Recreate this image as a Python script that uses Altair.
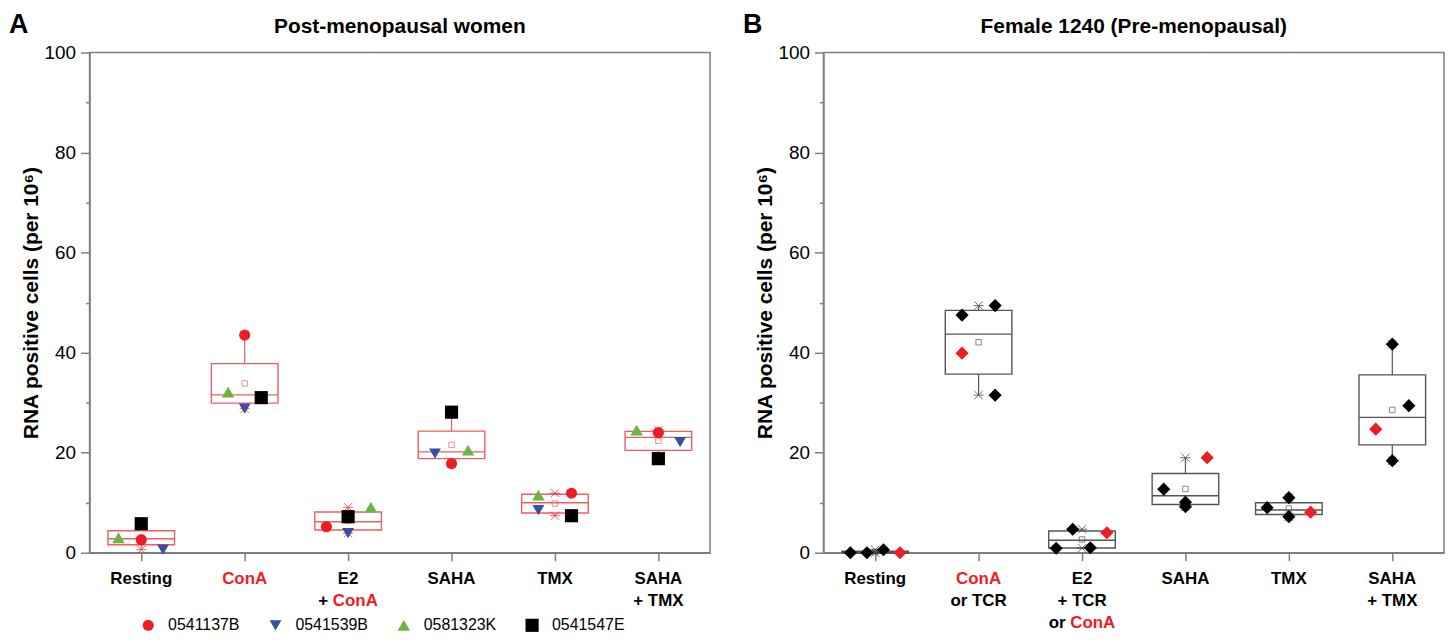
import altair as alt
import pandas as pd

# ---------------- data ----------------
idx = [1, 2, 3, 4, 5, 6]

# Panel A – four post-menopausal donors (value per condition)
subjects = ["0541137B", "0541539B", "0581323K", "0541547E"]
a_0541137B = [2.6, 43.5, 5.2, 17.8, 11.9, 24.0]
a_0541539B = [0.6, 28.8, 3.9, 19.8, 8.5, 22.1]
a_0581323K = [3.0, 32.1, 9.1, 20.5, 11.5, 24.5]
a_0541547E = [5.8, 31.0, 7.2, 28.1, 7.4, 18.8]
# horizontal spread of overlapping points (category units)
jit_0541137B = [0.0, 0.0, -0.21, 0.0, 0.16, 0.0]
jit_0541539B = [0.21, 0.0, 0.0, -0.16, -0.16, 0.21]
jit_0581323K = [-0.22, -0.16, 0.22, 0.16, -0.16, -0.21]
jit_0541547E = [0.0, 0.16, 0.0, 0.0, 0.16, 0.0]

# Panel B – female 1240, four measurements per condition
b_resting = [0.0, 0.0, 0.6, 0.0]
b_cona = [47.5, 49.4, 39.9, 31.5]
b_e2 = [0.9, 4.7, 1.0, 4.0]
b_saha = [12.7, 10.1, 9.2, 19.0]
b_tmx = [9.0, 11.0, 7.2, 8.1]
b_sahatmx = [41.7, 29.4, 24.7, 18.4]
bj_resting = [-0.24, -0.08, 0.08, 0.24]
bj_cona = [-0.16, 0.16, -0.16, 0.16]
bj_e2 = [-0.25, -0.09, 0.08, 0.24]
bj_saha = [-0.21, 0.0, 0.0, 0.21]
bj_tmx = [-0.21, 0.0, 0.0, 0.21]
bj_sahatmx = [0.0, 0.16, -0.16, 0.0]
b_red_index = [3, 2, 3, 3, 3, 2]   # which point of each group is drawn red

# category labels: (category, line, [(text, colour-key), ...])
labels_A = [
    (1, 0, [("Resting", "k")]),
    (2, 0, [("ConA", "r")]),
    (3, 0, [("E2", "k")]), (3, 1, [("+ ", "k"), ("ConA", "r")]),
    (4, 0, [("SAHA", "k")]),
    (5, 0, [("TMX", "k")]),
    (6, 0, [("SAHA", "k")]), (6, 1, [("+ TMX", "k")]),
]
labels_B = [
    (1, 0, [("Resting", "k")]),
    (2, 0, [("ConA", "r")]), (2, 1, [("or TCR", "k")]),
    (3, 0, [("E2", "k")]), (3, 1, [("+ TCR", "k")]), (3, 2, [("or ", "k"), ("ConA", "r")]),
    (4, 0, [("SAHA", "k")]),
    (5, 0, [("TMX", "k")]),
    (6, 0, [("SAHA", "k")]), (6, 1, [("+ TMX", "k")]),
]

# ---------------- styling ----------------
W, H = 624, 503
FONT = "Liberation Sans"
RED, BLUE, GREEN, BLACK = "#EE1D23", "#3A4EA3", "#6AB545", "#000000"
BOXRED = "#EF5E5E"
GRAY = "#7F7F7F"
LBL = 17
HALF = 0.322
LINE0, LSTEP = 31, 22.5

COLS = {"k": "#000000", "r": RED}
BOLD_W = {"+": 0.584, " ": 0.278, "C": 0.722, "o": 0.611, "n": 0.611, "A": 0.722,
          "r": 0.389, "T": 0.611, "R": 0.722, "M": 0.833, "X": 0.667}


def twidth(s):
    return sum(BOLD_W.get(c, 0.6) for c in s) * LBL


def hinge_stats(vals):
    s = sorted(vals)
    return dict(lo=s[0], q1=(s[0] + s[1]) / 2, med=(s[1] + s[2]) / 2,
                q3=(s[2] + s[3]) / 2, hi=s[3], mean=sum(s) / len(s))


xscale = alt.Scale(domain=[0.5, 6.5], nice=False, zero=False)
yscale = alt.Scale(domain=[0, 100], nice=False)
xaxis = alt.Axis(values=idx, labels=False, title=None, tickSize=8, grid=False)
yaxis = alt.Axis(
    title="RNA positive cells (per 10⁶)",
    values=list(range(0, 101, 10)),
    labelExpr="datum.value % 20 === 0 ? datum.label : ''",
    tickSize={"condition": {"test": "datum.value % 20 !== 0", "value": 4}, "value": 9},
    grid=False,
)


def X(f):
    return alt.X(f, type="quantitative", scale=xscale, axis=xaxis)


def Y(f):
    return alt.Y(f, type="quantitative", scale=yscale, axis=yaxis)


def stats_frame(groups):
    rows = []
    for i, vals in zip(idx, groups):
        st = hinge_stats(vals)
        st.update(idx=i, xl=i - HALF, xr=i + HALF)
        rows.append(st)
    return pd.DataFrame(rows)


def box_layers(sdf, col, star_col):
    base = alt.Chart(sdf)
    up = base.mark_rule(color=col, strokeWidth=1.2).encode(x=X("idx"), y=Y("q3"), y2="hi")
    dn = base.mark_rule(color=col, strokeWidth=1.2).encode(x=X("idx"), y=Y("lo"), y2="q1")
    box = base.mark_rect(fillOpacity=0, stroke=col, strokeWidth=1.4).encode(
        x=X("xl"), x2="xr", y=Y("q1"), y2="q3")
    med = base.mark_rule(color=col, strokeWidth=1.4).encode(x=X("xl"), x2="xr", y=Y("med"))
    mean = base.mark_point(shape="square", filled=False, size=30, color=col,
                           strokeWidth=1).encode(x=X("idx"), y=Y("mean"))
    star = base.transform_fold(["lo", "hi"], as_=["k", "v"]).mark_point(
        shape="M-1,-1L1,1M-1,1L1,-1M-1.2,0L1.2,0", filled=False, size=70,
        color=star_col, strokeWidth=1).encode(x=X("idx"), y=Y("v:Q"))
    return [up, dn, box, med, mean, star]


def label_layers(labels):
    layers = []
    simple = []
    for (i, line, segs) in labels:
        if len(segs) == 1:
            simple.append(dict(idx=i, line=line, text=segs[0][0], color=COLS[segs[0][1]]))
        else:
            total = sum(twidth(t) for t, _ in segs)
            start = -total / 2
            for t, c in segs:
                d = pd.DataFrame([dict(idx=i, text=t)])
                layers.append(alt.Chart(d).mark_text(
                    font=FONT, fontSize=LBL, fontWeight="bold", align="left",
                    baseline="alphabetic", dx=start, color=COLS[c]).encode(
                    x=X("idx"), y=alt.value(H + LINE0 + LSTEP * line), text="text"))
                start += twidth(t)
    sdf = pd.DataFrame(simple)
    for line in sorted(sdf["line"].unique()):
        layers.append(alt.Chart(sdf[sdf["line"] == line]).mark_text(
            font=FONT, fontSize=LBL, fontWeight="bold", align="center",
            baseline="alphabetic").encode(
            x=X("idx"), y=alt.value(H + LINE0 + LSTEP * int(line)), text="text",
            color=alt.Color("color:N", scale=None)))
    return layers


def headings(letter, title):
    d = pd.DataFrame({"t": [letter]})
    lt = alt.Chart(d).mark_text(
        font=FONT, fontSize=27, fontWeight="bold", align="left", baseline="alphabetic",
        color="black").encode(x=alt.value(-81), y=alt.value(-20), text="t")
    d2 = pd.DataFrame({"t": [title]})
    tt = alt.Chart(d2).mark_text(
        font=FONT, fontSize=21, fontWeight="bold", align="center", baseline="alphabetic",
        color="black").encode(x=alt.value(W / 2), y=alt.value(-20), text="t")
    return [lt, tt]


# ---------------- panel A ----------------
vals_A = [a_0541137B, a_0541539B, a_0581323K, a_0541547E]
jits_A = [jit_0541137B, jit_0541539B, jit_0581323K, jit_0541547E]
rows = []
for s, vals, jit in zip(subjects, vals_A, jits_A):
    for i, v, j in zip(idx, vals, jit):
        rows.append(dict(subject=s, idx=i, x=i + j, value=v))
pts_A = pd.DataFrame(rows)
groups_A = [[vals[k] for vals in vals_A] for k in range(6)]
stats_A = stats_frame(groups_A)

leg = alt.Legend(title=None, orient="none", legendX=51, legendY=568, direction="horizontal",
                 labelFont=FONT, labelFontSize=16, labelColor="black", symbolSize=110,
                 labelOffset=12, columnPadding=28, symbolStrokeWidth=0)
points_A = alt.Chart(pts_A).mark_point(filled=True, opacity=1, strokeWidth=0).encode(
    x=X("x"), y=Y("value"),
    color=alt.Color("subject:N", scale=alt.Scale(domain=subjects, range=[RED, BLUE, GREEN, BLACK]), legend=leg),
    shape=alt.Shape("subject:N", scale=alt.Scale(domain=subjects,
                    range=["circle", "triangle-down", "triangle-up", "square"]), legend=leg),
    size=alt.Size("subject:N", scale=alt.Scale(domain=subjects, range=[125, 175, 175, 80]), legend=None),
)

panel_A = alt.layer(*box_layers(stats_A, BOXRED, RED), points_A, *label_layers(labels_A),
                    *headings("A", "Post-menopausal women")).properties(width=W, height=H)

# ---------------- panel B ----------------
groups_B = [b_resting, b_cona, b_e2, b_saha, b_tmx, b_sahatmx]
jits_B = [bj_resting, bj_cona, bj_e2, bj_saha, bj_tmx, bj_sahatmx]
rows = []
for i, vals, jit, r in zip(idx, groups_B, jits_B, b_red_index):
    for k, (v, j) in enumerate(zip(vals, jit)):
        rows.append(dict(idx=i, x=i + j, value=v, col=RED if k == r else BLACK))
pts_B = pd.DataFrame(rows)
stats_B = stats_frame(groups_B)

points_B = alt.Chart(pts_B).mark_point(filled=True, opacity=1, strokeWidth=0, shape="diamond",
                                       size=175).encode(
    x=X("x"), y=Y("value"), color=alt.Color("col:N", scale=None))

panel_B = alt.layer(*box_layers(stats_B, "#555555", "#333333"), points_B, *label_layers(labels_B),
                    *headings("B", "Female 1240 (Pre-menopausal)")).properties(width=W, height=H)

chart = alt.hconcat(panel_A, panel_B, spacing=31).resolve_scale(
    color="independent", shape="independent", size="independent"
).properties(padding=0).configure_axis(
    labelFont=FONT, labelFontSize=19, labelColor="black", labelPadding=5,
    titleFont=FONT, titleFontSize=21, titleFontWeight="bold", titleColor="black", titlePadding=3,
    domainColor=GRAY, domainWidth=1.5, tickColor=GRAY, tickWidth=1.5,
).configure_view(stroke=GRAY, strokeWidth=1.5)

chart.save("out.html", embed_options={"renderer": "svg", "actions": False})
